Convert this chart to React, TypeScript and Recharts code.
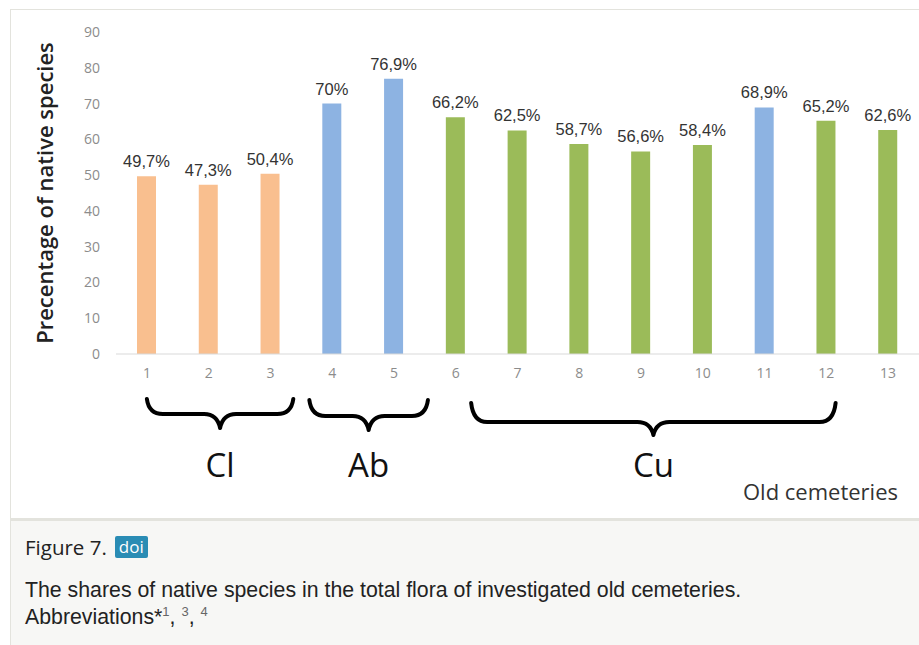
import { Bar, BarChart, Cell, LabelList, XAxis, YAxis } from 'recharts';

const cemeteries = ['1', '2', '3', '4', '5', '6', '7', '8', '9', '10', '11', '12', '13'];
const nativeShare = [49.7, 47.3, 50.4, 70, 76.9, 66.2, 62.5, 58.7, 56.6, 58.4, 68.9, 65.2, 62.6];
const cemeteryType = ['Cl', 'Cl', 'Cl', 'Ab', 'Ab', 'Cu', 'Cu', 'Cu', 'Cu', 'Cu', 'Ab', 'Cu', 'Cu'];
const yTicks = [0, 10, 20, 30, 40, 50, 60, 70, 80, 90];

// brace spans, in category units (1 = centre of first bar)
const groupLabels = ['Cl', 'Ab', 'Cu'];
const groupFrom = [1.0, 3.63, 6.25];
const groupTo = [3.37, 5.55, 12.15];

const COLORS: Record<string, string> = {
  Cl: '#f9bf8f',
  Ab: '#8db3e2',
  Cu: '#9bbb59',
};

const CHART_W = 919;
const CHART_H = 400;
const PLOT_LEFT = 116;
const PLOT_RIGHT = 919;
const BAND = (PLOT_RIGHT - PLOT_LEFT) / cemeteries.length;

const data = cemeteries.map((name, i) => ({ name, value: nativeShare[i], type: cemeteryType[i] }));

const fmt = (v: number) => `${String(v).replace('.', ',')}%`;

const catX = (pos: number) => PLOT_LEFT + (pos - 0.5) * BAND;

function bracePath(x1: number, x2: number, top: number, mid: number, tip: number) {
  const cx = (x1 + x2) / 2;
  const r = 16;
  return [
    `M ${x1} ${top}`,
    `Q ${x1 + 2} ${mid} ${x1 + r} ${mid}`,
    `L ${cx - r} ${mid}`,
    `Q ${cx - 3} ${mid} ${cx} ${tip}`,
    `Q ${cx + 3} ${mid} ${cx + r} ${mid}`,
    `L ${x2 - r} ${mid}`,
    `Q ${x2 - 2} ${mid} ${x2} ${top}`,
  ].join(' ');
}

const braceY = [
  { top: 399, mid: 414, tip: 428 },
  { top: 400, mid: 416, tip: 430 },
  { top: 403, mid: 422, tip: 435 },
];

const sup = { fontSize: 13, color: '#666', lineHeight: 0 };

export default function App() {
  return (
    <div style={{ position: 'fixed', left: 0, top: 0, width: 919, height: 645, background: '#fff', overflow: 'hidden' }}>
      <div
        style={{
          position: 'absolute',
          left: 10,
          top: 9,
          right: 0,
          bottom: 0,
          borderLeft: '1px solid #e3e3dd',
          borderTop: '1px solid #e3e3dd',
        }}
      />
      <div style={{ position: 'absolute', left: 0, top: 0 }}>
        <BarChart width={CHART_W} height={CHART_H} data={data} margin={{ top: 32, right: 0, bottom: 16, left: 36 }}>
          <XAxis
            dataKey="name"
            height={30}
            tickLine={false}
            tickSize={0}
            tickMargin={14}
            axisLine={{ stroke: '#d9d9d9' }}
            tick={{ fill: '#8c8c8c', fontSize: 14, fontFamily: 'Open Sans' }}
          />
          <YAxis
            width={80}
            domain={[0, 90]}
            ticks={yTicks}
            axisLine={false}
            tickLine={false}
            tickSize={0}
            tickMargin={16}
            tick={{ fill: '#8c8c8c', fontSize: 14, fontFamily: 'Open Sans' }}
            label={{
              value: 'Precentage of native species',
              angle: -90,
              position: 'insideLeft',
              offset: 9,
              style: { textAnchor: 'middle', fill: '#222', fontSize: 22, fontFamily: 'Open Sans', fontWeight: 600 },
            }}
          />
          <Bar dataKey="value" barSize={19} isAnimationActive={false}>
            {data.map((d) => (
              <Cell key={d.name} fill={COLORS[d.type]} />
            ))}
            <LabelList
              dataKey="value"
              position="top"
              offset={9}
              formatter={(v: any) => fmt(Number(v))}
              style={{ fill: '#333', fontSize: 16.5, fontFamily: 'Liberation Sans, Arial' }}
            />
          </Bar>
        </BarChart>
      </div>
      <svg width={919} height={645} style={{ position: 'absolute', left: 0, top: 0, pointerEvents: 'none' }}>
        {groupLabels.map((g, i) => {
          const x1 = catX(groupFrom[i]);
          const x2 = catX(groupTo[i]);
          const b = braceY[i];
          return (
            <g key={g}>
              <path
                d={bracePath(x1, x2, b.top, b.mid, b.tip)}
                fill="none"
                stroke="#000"
                strokeWidth={4}
                strokeLinecap="round"
                strokeLinejoin="round"
              />
              <text x={(x1 + x2) / 2} y={477} textAnchor="middle" fontSize={33} fontFamily="Open Sans" fill="#111">
                {g}
              </text>
            </g>
          );
        })}
        <text x={898} y={500} textAnchor="end" fontSize={22} fontFamily="Open Sans" fill="#333">
          Old cemeteries
        </text>
      </svg>
      <div
        style={{
          position: 'absolute',
          left: 10,
          top: 518,
          right: 0,
          bottom: 0,
          background: '#f7f7f5',
          borderTop: '3px solid #e3e3dd',
          borderLeft: '1px solid #e3e3dd',
        }}
      >
        <div style={{ position: 'absolute', left: 14, top: 12, fontFamily: 'Open Sans', fontSize: 20.5, color: '#222', display: 'flex', alignItems: 'center' }}>
          <span>Figure 7.</span>
          <span
            style={{
              marginLeft: 8,
              background: '#2a8cb4',
              color: '#fff',
              fontSize: 17,
              padding: '0 4px',
              lineHeight: '22px',
              borderRadius: 2,
            }}
          >
            doi
          </span>
        </div>
        <div style={{ position: 'absolute', left: 14, top: 56, fontFamily: 'Liberation Sans, Arial', fontSize: 21.3, color: '#222', lineHeight: '27px' }}>
          <div>The shares of native species in the total flora of investigated old cemeteries.</div>
          <div>
            Abbreviations*<sup style={sup}>1</sup>, <sup style={sup}>3</sup>, <sup style={sup}>4</sup>
          </div>
        </div>
      </div>
    </div>
  );
}
